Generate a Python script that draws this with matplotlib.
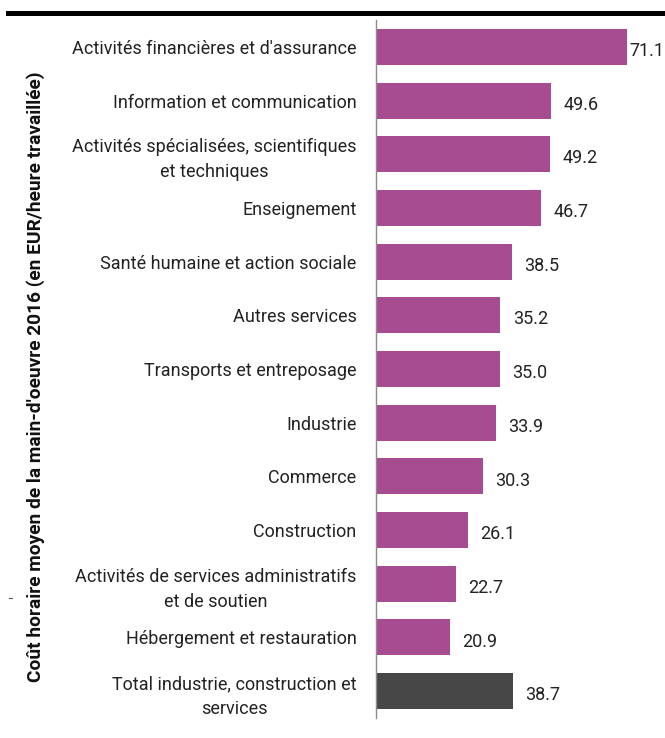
import matplotlib
matplotlib.use('Agg')
import matplotlib.pyplot as plt
from matplotlib.lines import Line2D

categories = [
    "Activités financières et d'assurance",
    "Information et communication",
    "Activités spécialisées, scientifiques\net techniques",
    "Enseignement",
    "Santé humaine et action sociale",
    "Autres services",
    "Transports et entreposage",
    "Industrie",
    "Commerce",
    "Construction",
    "Activités de services administratifs\net de soutien",
    "Hébergement et restauration",
    "Total industrie, construction et\nservices",
]
values = [71.1, 49.6, 49.2, 46.7, 38.5, 35.2, 35.0, 33.9, 30.3, 26.1, 22.7, 20.9, 38.7]
colors = ['#a84c91'] * 12 + ['#474747']

plt.rcParams['font.family'] = ['Roboto', 'DejaVu Sans']

fig = plt.figure(figsize=(6.65, 7.38), dpi=100)
ax = fig.add_axes([376 / 665, 20 / 738, 289 / 665, 698 / 738])

y = list(range(len(categories)))
ax.barh(y, values, height=0.67, color=colors)
ax.set_ylim(12.5, -0.5)
ax.set_xlim(0, 81.9)

ax.set_yticks(y)
ax.set_yticklabels(categories, fontsize=13, color='#222222', multialignment='center', linespacing=1.5)
ax.tick_params(axis='y', length=0, pad=14)
ax.set_xticks([])

for s in ['top', 'right', 'bottom']:
    ax.spines[s].set_visible(False)
ax.spines['left'].set_color('#8c8c8c')
ax.spines['left'].set_linewidth(1.0)

for i, v in enumerate(values):
    pad = 2 if v == max(values) else 9
    ax.annotate(f"{v:.1f}", (v, i), xytext=(pad, -3), textcoords='offset points',
                ha='left', va='center', fontsize=13, color='#222222')

fig.text(36 / 665, 1 - 377 / 738,
         "Coût horaire moyen de la main-d'oeuvre 2016 (en EUR/heure travaillée)",
         rotation=90, ha='center', va='center', fontsize=13.8, fontweight='bold',
         color='#111111')

# thick rule on top
fig.add_artist(Line2D([8 / 665, 1], [1 - 13 / 738, 1 - 13 / 738],
                      transform=fig.transFigure, color='black', linewidth=3.6))
# small stray tick on the left
fig.add_artist(Line2D([9 / 665, 12 / 665], [1 - 598 / 738, 1 - 598 / 738],
                      transform=fig.transFigure, color='#555555', linewidth=0.8))

fig.savefig('out.png', dpi=100)
